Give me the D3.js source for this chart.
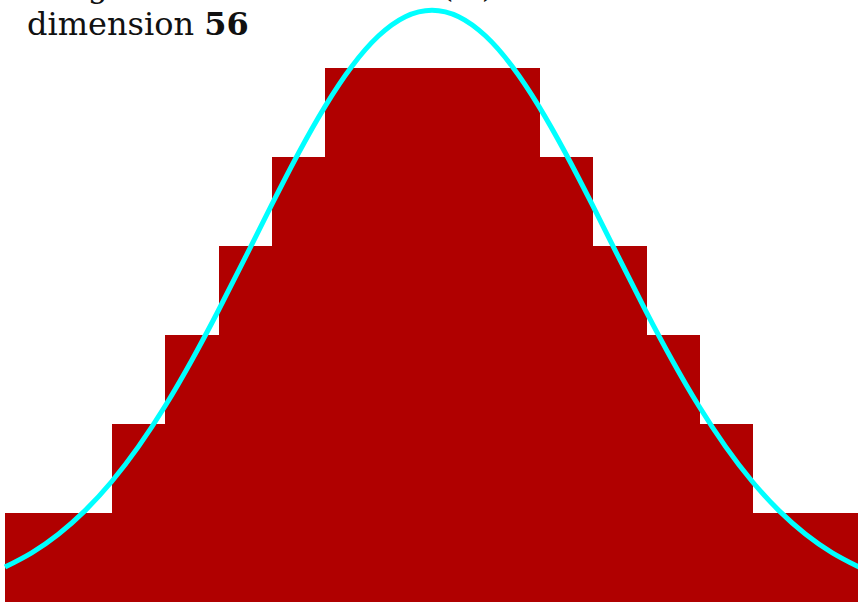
<!DOCTYPE html>
<html><head><meta charset="utf-8">
<script src="https://cdn.jsdelivr.net/npm/d3@7"></script>
<style>html,body{margin:0;padding:0;background:#fff;overflow:hidden}</style>
</head><body>
<svg id="c" width="858" height="602"></svg>
<script>
// histogram bin counts (16 equal bins)
const binCounts = [1,1,2,3,4,5,6,6,6,6,5,4,3,2,1,1];
// fitted curve, x in bin units (0..16), y in count units
const curveX = [0,0.5,1,1.5,2,2.5,3,3.5,4,4.5,5,5.5,6,6.5,7,7.5,8,8.5,9,9.5,10,10.5,11,11.5,12,12.5,13,13.5,14,14.5,15,15.5,16];
const curveY = [0.393,0.553,0.762,1.027,1.354,1.746,2.202,2.717,3.278,3.869,4.467,5.045,5.572,6.020,6.362,6.577,6.65,6.577,6.362,6.020,5.572,5.045,4.467,3.869,3.278,2.717,2.202,1.746,1.354,1.027,0.762,0.553,0.393];
const titleLine1 = "Length of random vector (ℓ₂)";
const titleLine2a = "dimension ";
const titleLine2b = "56";

const svg = d3.select("#c");
const x = d3.scaleLinear().domain([0,16]).range([5,859]);
const y = d3.scaleLinear().domain([0,6]).range([602,68]);

svg.append("g").attr("shape-rendering","crispEdges").selectAll("rect").data(binCounts).join("rect")
  .attr("x",(d,i)=>x(i)).attr("width",(d,i)=>x(i+1)-x(i)+1)
  .attr("y",d=>y(d)).attr("height",d=>y(0)-y(d))
  .attr("fill","#b00000");

const pts = curveX.map((v,i)=>[v,curveY[i]]);
svg.append("path").datum(pts)
  .attr("d",d3.line().x(d=>x(d[0])).y(d=>y(d[1])).curve(d3.curveNatural))
  .attr("fill","none").attr("stroke","#00ffff").attr("stroke-width",5);

svg.append("text").attr("x",27).attr("y",-3)
  .attr("font-family","DejaVu Serif").attr("font-size",32).attr("fill","#111")
  .text(titleLine1);
const t2 = svg.append("text").attr("x",27).attr("y",35)
  .attr("font-family","DejaVu Serif").attr("font-size",32).attr("fill","#111");
t2.append("tspan").text(titleLine2a);
t2.append("tspan").attr("font-weight","bold").text(titleLine2b);
</script>
</body></html>
